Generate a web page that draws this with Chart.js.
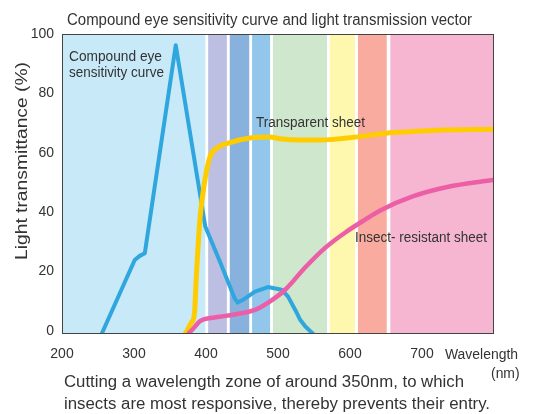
<!DOCTYPE html>
<html>
<head>
<meta charset="utf-8">
<title>Compound eye sensitivity</title>
<script src="https://cdn.jsdelivr.net/npm/chart.js@4.4.1/dist/chart.umd.min.js"></script>
<style>
    html, body { margin: 0; padding: 0; background: #fff; }
    #wrap { width: 535px; height: 414px; }
</style>
</head>
<body>
<div id="wrap"><canvas id="sensChart" width="535" height="414"></canvas></div>
<script>
// Axis ticks
const xTicks = [200, 300, 400, 500, 600, 700];
const yTicks = [0, 20, 40, 60, 80, 100];

// Spectrum bands behind the plot (nm)
const bandFrom = [200, 403, 433, 464, 493, 572, 611, 656];
const bandTo = [399, 429, 460, 489, 568, 607, 651, 800];
const bandColors = ['#c7e9f8', '#bcbfe2', '#89b1de', '#92c6eb', '#cfe7cc', '#fef8af', '#f8ab9e', '#f6b6d1'];

// Compound eye sensitivity curve
const eyeNm = [255, 301, 308, 315, 358, 399, 420, 440, 444, 452, 468, 486, 505, 514, 524, 531, 538, 549];
const eyeVal = [-1, 23.9, 25.3, 26.2, 96.2, 35.2, 23, 10.9, 9.6, 10.6, 13.3, 14.8, 13.9, 11.6, 7.1, 3.7, 1.5, -1];

// Transparent sheet
const clearNm = [371, 380, 384, 386.5, 391.7, 398.6, 405.6, 415, 433, 461, 489, 503, 530, 560, 596, 625, 651, 683, 720, 800];
const clearVal = [-1, 3, 6, 18, 38, 51, 58.7, 61.6, 63.4, 65, 65.3, 64.7, 64.3, 64.3, 65, 65.8, 66.6, 67.1, 67.6, 67.9];

// Insect-resistant sheet
const insectNm = [375, 384, 391, 398, 419, 445, 468, 489, 510, 537, 565, 593, 621, 642, 688, 735, 800];
const insectVal = [-1, 1.3, 3.2, 4, 4.8, 5.8, 7.1, 10, 13.9, 21.2, 27.9, 33.1, 37.5, 40.6, 45.4, 48.5, 50.9];

const FONT = '"Liberation Sans", Arial, sans-serif';
const TEXT = '#333';

function toPoints(xs, ys) {
    return xs.map((x, i) => ({ x: x, y: ys[i] }));
}

// draw text squeezed/stretched to a given width
function fitText(ctx, text, x, y, size, width, align) {
    ctx.save();
    ctx.font = size + 'px ' + FONT;
    const w = ctx.measureText(text).width;
    ctx.translate(x, y);
    ctx.scale(width / w, 1);
    ctx.textAlign = align || 'left';
    ctx.textBaseline = 'alphabetic';
    ctx.fillStyle = TEXT;
    ctx.fillText(text, 0, 0);
    ctx.restore();
}

const decorPlugin = {
    id: 'decor',
    beforeDatasetsDraw(chart) {
        const { ctx, chartArea, scales } = chart;
        ctx.save();
        for (let i = 0; i < bandFrom.length; i++) {
            const x0 = scales.x.getPixelForValue(bandFrom[i]);
            const x1 = scales.x.getPixelForValue(bandTo[i]);
            ctx.fillStyle = bandColors[i];
            ctx.fillRect(x0, chartArea.top, x1 - x0, chartArea.bottom - chartArea.top);
        }
        ctx.restore();
    },
    afterDatasetsDraw(chart) {
        const { ctx, chartArea, scales } = chart;
        ctx.save();
        ctx.strokeStyle = '#444';
        ctx.lineWidth = 1;
        ctx.strokeRect(chartArea.left + 0.5, chartArea.top + 0.5,
            chartArea.right - chartArea.left - 1, chartArea.bottom - chartArea.top - 1);
        ctx.restore();

        const px = v => scales.x.getPixelForValue(v);
        const py = v => scales.y.getPixelForValue(v);
        fitText(ctx, 'Compound eye', px(209.7), py(91.0), 14, 93);
        fitText(ctx, 'sensitivity curve', px(209.7), py(85.4), 14, 95);
        fitText(ctx, 'Transparent sheet', px(469.4), py(68.8), 14, 109);
        fitText(ctx, 'Insect- resistant sheet', px(607), py(30.1), 14, 132);
    },
    afterDraw(chart) {
        const ctx = chart.ctx;
        fitText(ctx, 'Compound eye sensitivity curve and light transmission vector', 67, 24.5, 16, 405);

        ctx.save();
        ctx.translate(26.5, 161);
        ctx.rotate(-Math.PI / 2);
        fitText(ctx, 'Light transmittance (%)', 0, 0, 16, 198, 'center');
        ctx.restore();

        fitText(ctx, 'Wavelength', 445, 359.3, 14, 73);
        fitText(ctx, '(nm)', 491, 378, 14, 28.6);

        fitText(ctx, 'Cutting a wavelength zone of around 350nm, to which', 64, 387, 16, 400);
        fitText(ctx, 'insects are most responsive, thereby prevents their entry.', 64, 409, 16, 426);
    }
};

Chart.defaults.font.family = FONT;
Chart.defaults.color = TEXT;

new Chart(document.getElementById('sensChart'), {
    type: 'line',
    data: {
        datasets: [
            {
                label: 'Insect- resistant sheet',
                data: toPoints(insectNm, insectVal),
                borderColor: '#ec5ea6',
                borderWidth: 4.5,
                cubicInterpolationMode: 'monotone',
                pointRadius: 0,
                order: 1
            },
            {
                label: 'Transparent sheet',
                data: toPoints(clearNm, clearVal),
                borderColor: '#ffcc00',
                borderWidth: 5,
                cubicInterpolationMode: 'monotone',
                pointRadius: 0,
                order: 2
            },
            {
                label: 'Compound eye sensitivity curve',
                data: toPoints(eyeNm, eyeVal),
                borderColor: '#2fa6de',
                borderWidth: 4,
                tension: 0,
                borderJoinStyle: 'round',
                pointRadius: 0,
                order: 3
            }
        ]
    },
    options: {
        responsive: false,
        animation: false,
        layout: { padding: { top: 34, right: 41, left: 0, bottom: 0 } },
        plugins: {
            legend: { display: false },
            tooltip: { enabled: false }
        },
        scales: {
            x: {
                type: 'linear',
                min: 200,
                max: 800,
                afterBuildTicks: scale => { scale.ticks = xTicks.map(v => ({ value: v })); },
                afterFit: scale => { scale.height = 80; },
                ticks: { font: { size: 14 }, color: TEXT, padding: 12, maxRotation: 0 },
                grid: { display: false, drawTicks: false },
                border: { display: false }
            },
            y: {
                min: -1,
                max: 100,
                afterBuildTicks: scale => { scale.ticks = yTicks.map(v => ({ value: v })); },
                afterFit: scale => { scale.width = 62; },
                ticks: { font: { size: 14 }, color: TEXT, padding: 8 },
                grid: { display: false, drawTicks: false },
                border: { display: false }
            }
        }
    },
    plugins: [decorPlugin]
});
</script>
</body>
</html>
